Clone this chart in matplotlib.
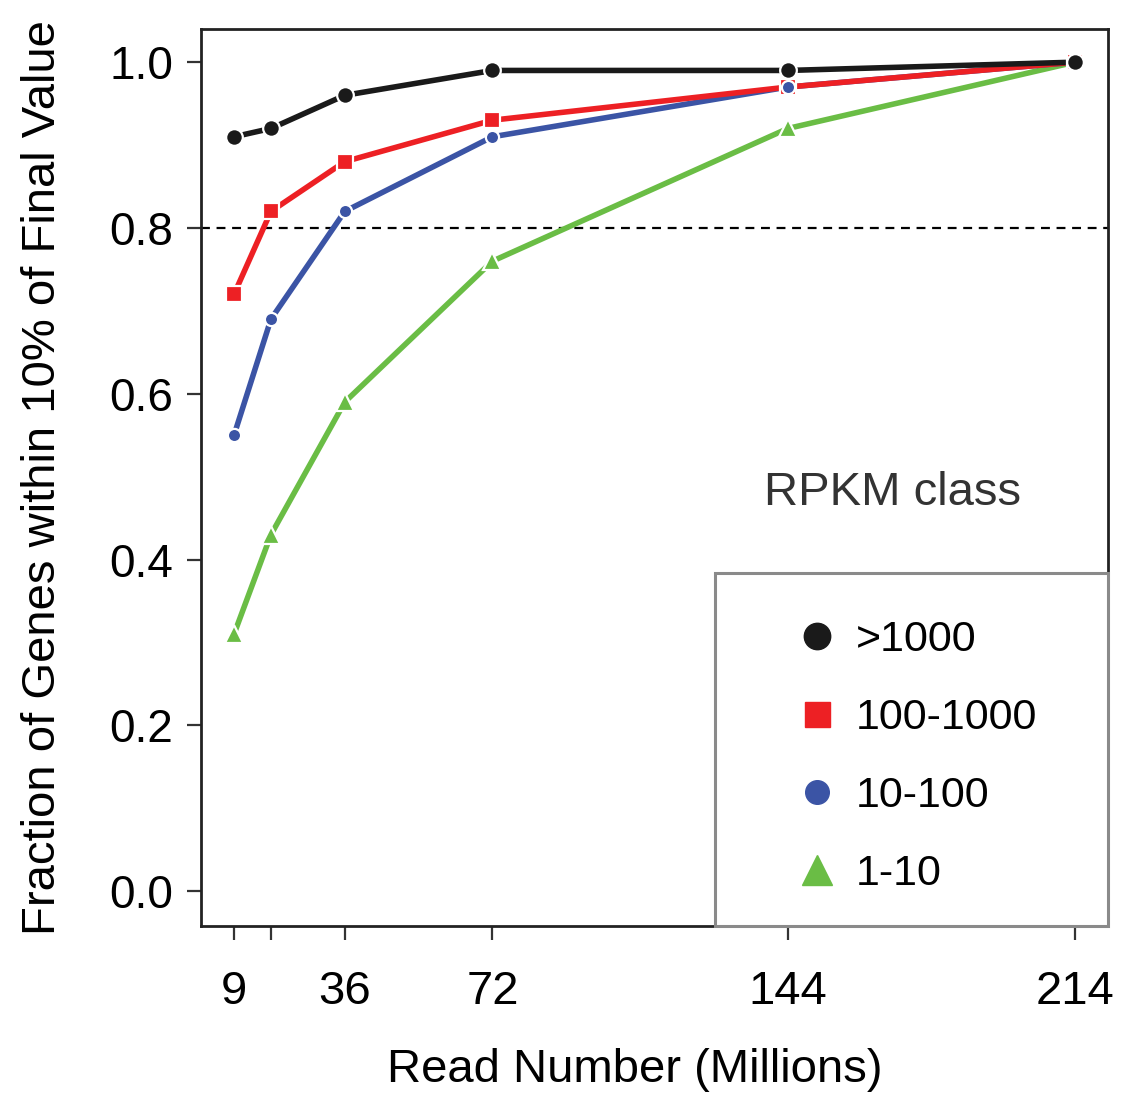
import matplotlib
matplotlib.use("Agg")
import matplotlib.pyplot as plt
from matplotlib.lines import Line2D
from matplotlib.patches import Rectangle

# ---- data ----
read_millions = [9, 18, 36, 72, 144, 214]
x_tick_values = [9, 18, 36, 72, 144, 214]
x_tick_labels = ["9", "", "36", "72", "144", "214"]
y_tick_values = [0.0, 0.2, 0.4, 0.6, 0.8, 1.0]

classes = [">1000", "100-1000", "10-100", "1-10"]
frac_gt1000 = [0.91, 0.92, 0.96, 0.99, 0.99, 1.00]
frac_100_1000 = [0.72, 0.82, 0.88, 0.93, 0.97, 1.00]
frac_10_100 = [0.55, 0.69, 0.82, 0.91, 0.97, 1.00]
frac_1_10 = [0.31, 0.43, 0.59, 0.76, 0.92, 1.00]
threshold = 0.8

colors = ["#1a1a1a", "#ED2024", "#3B54A5", "#6ABD45"]
markers = ["o", "s", "o", "^"]
msizes = [12, 12, 9.5, 13]
leg_msizes = [19, 18, 17, 21]

series = [frac_gt1000, frac_100_1000, frac_10_100, frac_1_10]

FONT = ["Liberation Sans", "DejaVu Sans"]
plt.rcParams["font.family"] = FONT

fig = plt.figure(figsize=(11.35, 10.97), dpi=100)
ax = fig.add_axes([201/1135, 1-926/1097, 907/1135, 897/1097])

# lines first (bottom to top): green, blue, red, black
for idx in [3, 2, 1, 0]:
    ax.plot(read_millions, series[idx], color=colors[idx], lw=4.0,
            solid_capstyle="round", zorder=2)
# markers: green, red, blue, black
for idx in [3, 1, 2, 0]:
    ax.plot(read_millions, series[idx], ls="none", marker=markers[idx],
            ms=msizes[idx], color=colors[idx], mec="white", mew=1.6, zorder=3)

ax.axhline(threshold, color="black", lw=1.6, ls=(0, (4, 3)), zorder=1)

ax.set_xlim(0.95, 222.05)
ax.set_ylim(-0.042, 1.04)
ax.set_xticks(x_tick_values)
ax.set_xticklabels(x_tick_labels, fontsize=34)
ax.set_yticks(y_tick_values)
ax.set_yticklabels([f"{v:.1f}" for v in y_tick_values], fontsize=33)
ax.tick_params(axis="both", direction="out", length=10, width=1.6, color="#333333")
ax.tick_params(axis="x", pad=22)
ax.tick_params(axis="y", pad=10)
for sp in ax.spines.values():
    sp.set_linewidth(2)
    sp.set_color("#222222")

ax.set_ylabel("Fraction of Genes within 10% of Final Value", fontsize=34)
ax.yaxis.set_label_coords(-0.15, 0.5)
fig.text(635/1135, 1-1070/1097, "Read Number (Millions)", fontsize=34,
         ha="center", va="center")

ax.text(0.762, 0.483, "RPKM class", transform=ax.transAxes, fontsize=34,
        ha="center", va="center", color="#333333")

# legend box
ax.add_patch(Rectangle((0.567, 0.0), 0.433, 0.394, transform=ax.transAxes,
                       fill=True, facecolor="white", edgecolor="#8a8a8a",
                       lw=2.2, zorder=4, clip_on=False))
handles = [Line2D([], [], ls="none", marker=markers[i], color=colors[i],
                  ms=leg_msizes[i]) for i in range(4)]
leg = ax.legend(handles, classes, loc="upper left",
                bbox_to_anchor=(0.627, 0.365), frameon=False,
                prop={"size": 31}, handletextpad=0.3,
                labelspacing=0.88, handlelength=1.2, borderpad=0)
leg.set_zorder(5)

fig.savefig("out.png", dpi=100)
